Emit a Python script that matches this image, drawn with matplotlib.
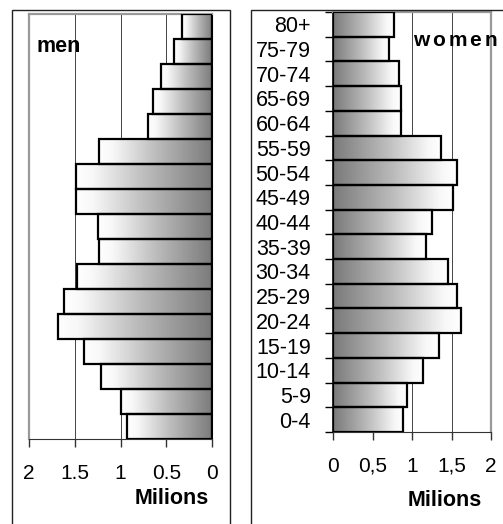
import matplotlib.pyplot as plt
import numpy as np
from matplotlib.colors import LinearSegmentedColormap
from matplotlib.patches import Rectangle

plt.rcParams['font.family'] = ['Liberation Sans', 'DejaVu Sans']

# Population by age group, millions
ages = ['0-4', '5-9', '10-14', '15-19', '20-24', '25-29', '30-34', '35-39',
        '40-44', '45-49', '50-54', '55-59', '60-64', '65-69', '70-74',
        '75-79', '80+']
men = [0.93, 1.0, 1.21, 1.40, 1.68, 1.62, 1.48, 1.23, 1.25, 1.49, 1.49,
       1.23, 0.70, 0.65, 0.56, 0.41, 0.33]
women = [0.89, 0.94, 1.14, 1.34, 1.62, 1.57, 1.45, 1.18, 1.25, 1.52, 1.57,
         1.37, 0.86, 0.86, 0.84, 0.71, 0.77]

men_ticks = [2, 1.5, 1, 0.5, 0]
women_ticks = [0, 0.5, 1, 1.5, 2]
women_ticklabels = ['0', '0,5', '1', '1,5', '2']

W, H = 503, 524


def px_box(x0, y0, x1, y1):
    return [x0 / W, 1 - y1 / H, (x1 - x0) / W, (y1 - y0) / H]


fig = plt.figure(figsize=(W / 100, H / 100), dpi=100)

# frames around each half
for x0, x1 in [(12, 230), (251, 520)]:
    fig.patches.append(Rectangle((x0 / W, -0.05), (x1 - x0) / W, 1.05 - 10 / H,
                                 transform=fig.transFigure, fill=False,
                                 edgecolor='#222222', linewidth=1.0))

shade = LinearSegmentedColormap.from_list(
    'shade', [(0, '#7a7a7a'), (0.5, '#bdbdbd'), (0.88, '#f8f8f8'), (1, '#ffffff')])
grad = np.linspace(0, 1, 256).reshape(1, -1)


def pyramid(ax, values):
    y = np.arange(len(values))
    bars = ax.barh(y, values, height=1.0, facecolor='none', edgecolor='black',
                   linewidth=1.6, zorder=3)
    for b in bars:
        x0, y0 = b.get_xy()
        ax.imshow(grad, extent=[x0, x0 + b.get_width(), y0, y0 + b.get_height()],
                  aspect='auto', cmap=shade, zorder=2)
    ax.set_ylim(-0.5, len(values) - 0.5)
    ax.set_axisbelow(True)
    ax.xaxis.grid(True, color='#444444', linewidth=0.7)
    ax.tick_params(axis='x', direction='out', length=6, width=1, color='#333333',
                   labelsize=15, pad=12)
    ax.spines['bottom'].set_color('#333333')


# men
ax1 = fig.add_axes(px_box(29, 14, 212, 439))
pyramid(ax1, men)
ax1.set_xlim(2, 0)
ax1.set_xticks(men_ticks)
ax1.set_xticklabels([str(t) for t in men_ticks])
ax1.set_yticks([])
for s in ['left', 'top']:
    ax1.spines[s].set_color('#999999')
    ax1.spines[s].set_linewidth(1.6)
ax1.spines['right'].set_color('black')
ax1.spines['right'].set_linewidth(1.5)
fig.text(36 / W, 1 - 46 / H, 'men', fontsize=15.5, fontweight='bold', va='center')
fig.text(172 / W, 1 - 499 / H, 'Milions', fontsize=15.5, fontweight='bold',
         ha='center', va='center')

# women
ax2 = fig.add_axes(px_box(333, 12, 491, 432))
pyramid(ax2, women)
ax2.set_xlim(0, 2)
ax2.set_xticks(women_ticks)
ax2.set_xticklabels(women_ticklabels)
ax2.set_yticks(np.arange(len(ages)))
ax2.set_yticklabels(ages)
ax2.set_yticks(np.arange(len(ages) + 1) - 0.5, minor=True)
ax2.tick_params(axis='y', which='major', length=0, labelsize=15.5, pad=16)
ax2.tick_params(axis='y', which='minor', direction='out', length=6, width=1)
for s in ['right', 'top']:
    ax2.spines[s].set_color('#999999')
    ax2.spines[s].set_linewidth(1.6)
ax2.spines['left'].set_color('black')
ax2.spines['left'].set_linewidth(1.2)

# spaced-out panel title
renderer = fig.canvas.get_renderer()
x = 413
for ch in 'women':
    t = fig.text(x / W, 1 - 41 / H, ch, fontsize=15, fontweight='bold', va='center')
    x += t.get_window_extent(renderer).width + 3
fig.text(445 / W, 1 - 500 / H, 'Milions', fontsize=15.5, fontweight='bold',
         ha='center', va='center')

fig.savefig('out.png', dpi=100)
